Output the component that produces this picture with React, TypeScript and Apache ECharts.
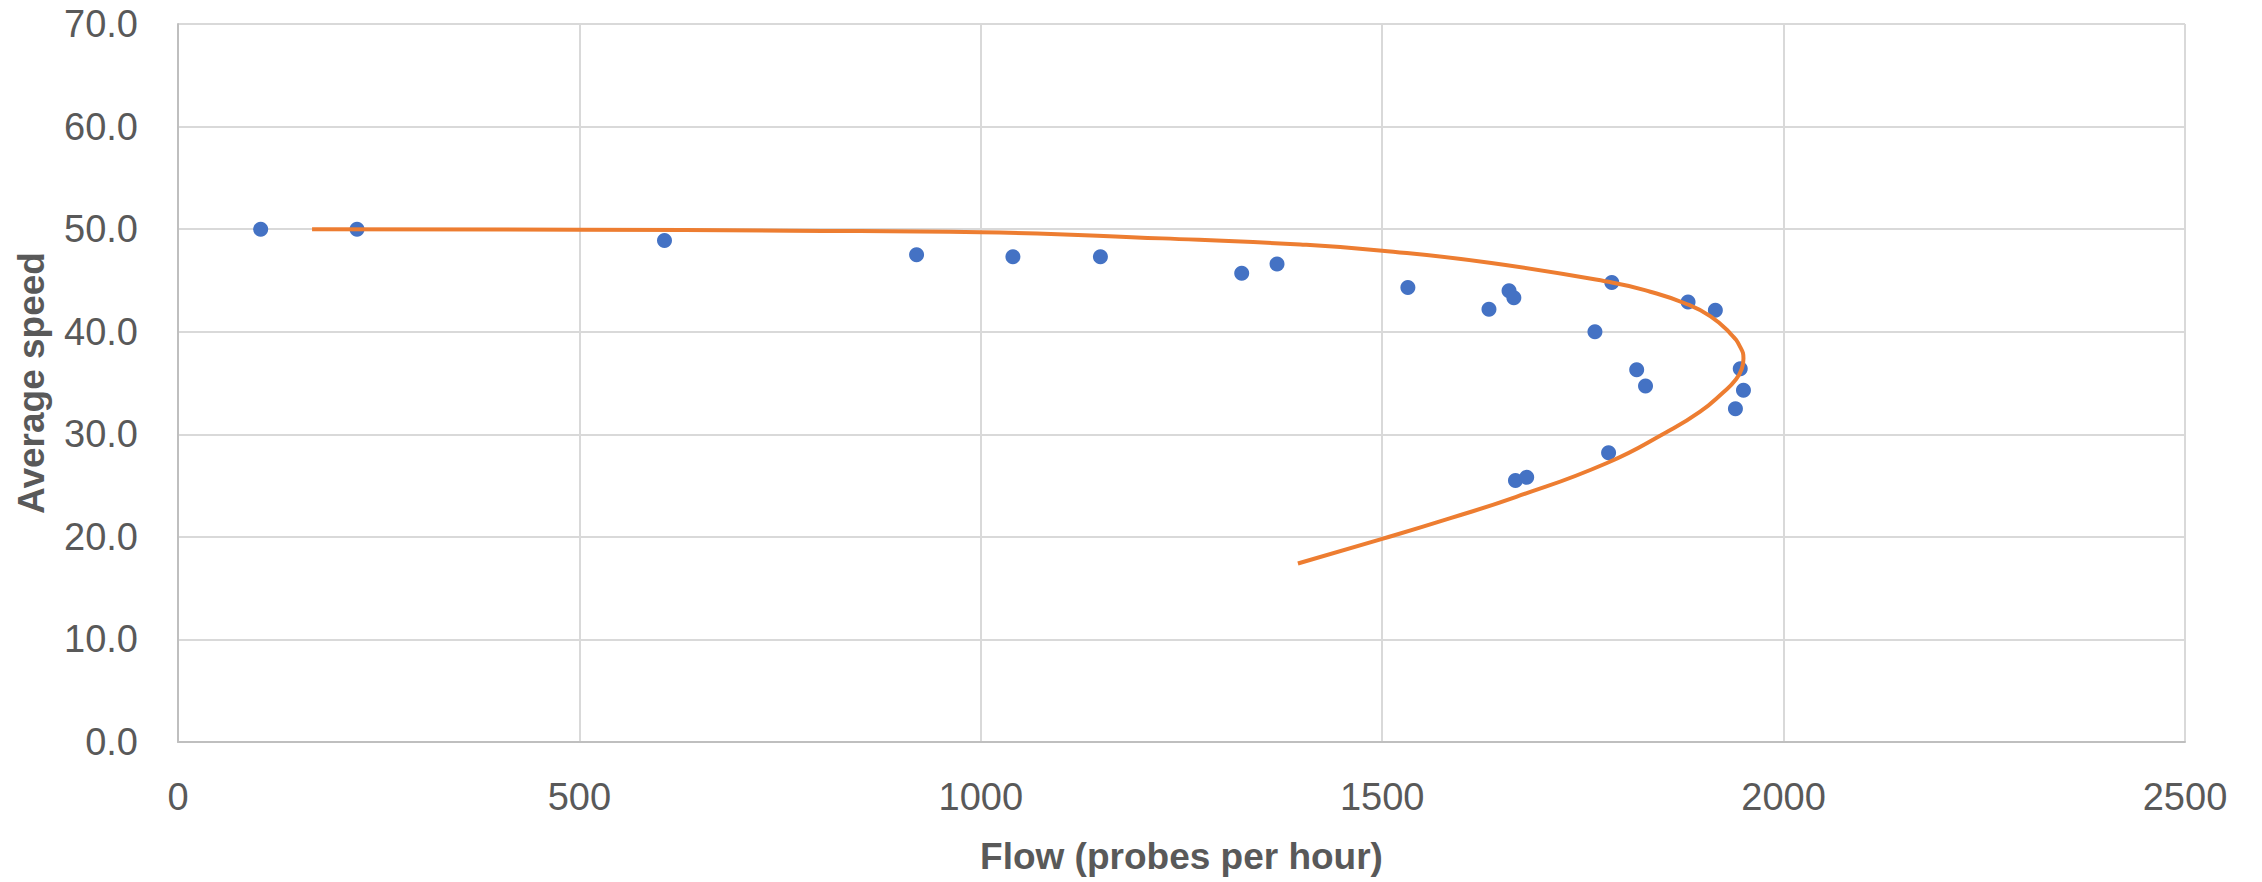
import React, { useEffect, useRef } from "react";
import * as echarts from "echarts";

// Observed points: flow (probes per hour) and average speed
const flowValues = [103, 223, 606, 920, 1040, 1149, 1325, 1369, 1532, 1633, 1658, 1664, 1786, 1765, 1881, 1915, 1817, 1828, 1946, 1950, 1940, 1782, 1666, 1680];
const speedValues = [50.0, 50.0, 48.9, 47.5, 47.3, 47.3, 45.7, 46.6, 44.3, 42.2, 44.0, 43.3, 44.8, 40.0, 42.9, 42.1, 36.3, 34.7, 36.4, 34.3, 32.5, 28.2, 25.5, 25.8];

// Fitted speed-flow curve
const curveFlow = [167, 500, 762, 1000, 1226, 1398, 1500, 1636, 1786, 1834, 1876, 1909, 1934, 1946, 1950, 1948, 1940, 1925, 1896, 1854, 1780, 1667, 1584, 1500, 1395];
const curveSpeed = [50.0, 49.95, 49.85, 49.7, 49.1, 48.5, 47.9, 46.7, 44.8, 43.9, 42.8, 41.5, 39.8, 38.5, 37.4, 36.4, 35.3, 34.1, 32.2, 30.2, 27.2, 23.9, 21.8, 19.8, 17.4];

const xTicks = { min: 0, max: 2500, interval: 500 };
const yTicks = { min: 0, max: 70, interval: 10 };

const xTitle = "Flow (probes per hour)";
const yTitle = "Average speed";

const FONT = "'Liberation Sans', Arial, sans-serif";
const TEXT_COLOR = "#595959";

export default function App() {
  const ref = useRef<HTMLDivElement>(null);
  useEffect(() => {
    if (!ref.current) return;
    const chart = echarts.init(ref.current, undefined, { renderer: "svg" });
    const scatterData = flowValues.map((f, i) => [f, speedValues[i]]);
    const curveData = curveFlow.map((f, i) => [f, curveSpeed[i]]);
    chart.setOption({
      animation: false,
      backgroundColor: "#ffffff",
      grid: { left: 178, right: 77, top: 24, bottom: 140, containLabel: false },
      xAxis: {
        type: "value",
        min: xTicks.min,
        max: xTicks.max,
        interval: xTicks.interval,
        name: xTitle,
        nameLocation: "middle",
        nameGap: 96,
        nameTextStyle: { fontFamily: FONT, fontSize: 37, fontWeight: "bold", color: TEXT_COLOR },
        axisLine: { show: true, lineStyle: { color: "#BFBFBF", width: 2 } },
        axisTick: { show: false },
        axisLabel: {
          fontFamily: FONT,
          fontSize: 38,
          color: TEXT_COLOR,
          margin: 36,
          formatter: (v: number) => String(v),
        },
        splitLine: { show: true, lineStyle: { color: "#D9D9D9", width: 2 } },
      },
      yAxis: {
        type: "value",
        min: yTicks.min,
        max: yTicks.max,
        interval: yTicks.interval,
        name: yTitle,
        nameLocation: "middle",
        nameGap: 128,
        nameTextStyle: { fontFamily: FONT, fontSize: 37, fontWeight: "bold", color: TEXT_COLOR },
        axisLine: { show: true, lineStyle: { color: "#BFBFBF", width: 2 } },
        axisTick: { show: false },
        axisLabel: {
          fontFamily: FONT,
          fontSize: 38,
          color: TEXT_COLOR,
          margin: 40,
          formatter: (v: number) => v.toFixed(1),
        },
        splitLine: { show: true, lineStyle: { color: "#D9D9D9", width: 2 } },
      },
      series: [
        {
          type: "scatter",
          data: scatterData,
          symbol: "circle",
          symbolSize: 15,
          itemStyle: { color: "#4472C4", opacity: 1 },
          z: 2,
        },
        {
          type: "line",
          data: curveData,
          smooth: 0.5,
          showSymbol: false,
          symbol: "none",
          lineStyle: { color: "#ED7D31", width: 4 },
          z: 3,
        },
      ],
    });
    return () => chart.dispose();
  }, []);
  return (
    <div
      ref={ref}
      style={{ position: "absolute", left: 0, top: 0, width: 2262, height: 882, background: "#fff" }}
    />
  );
}
